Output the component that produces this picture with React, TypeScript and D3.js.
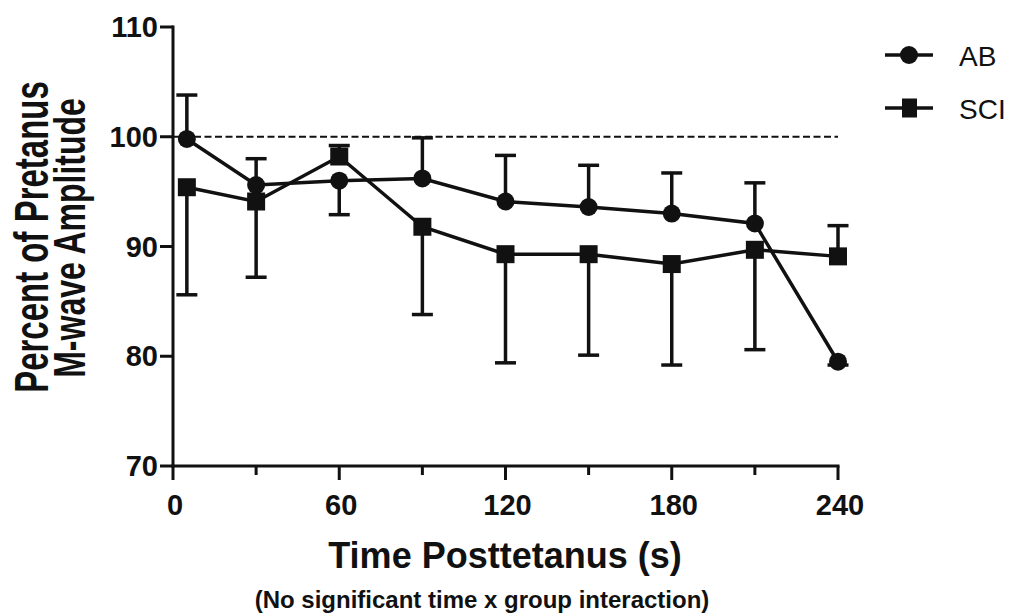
import React from "react";
import * as d3 from "d3";

// Time points (s) after the tetanus
const times = [5, 30, 60, 90, 120, 150, 180, 210, 240];
// Mean M-wave amplitude, percent of pretetanus value
const abMeans = [99.8, 95.6, 96.0, 96.2, 94.1, 93.6, 93.0, 92.1, 79.5];
const sciMeans = [95.4, 94.1, 98.2, 91.8, 89.3, 89.3, 88.4, 89.7, 89.1];
// Error bar half-lengths
const abErr = [4.0, 2.4, 3.1, 3.7, 4.2, 3.8, 3.7, 3.7, 0.3];
const sciErr = [9.8, 6.9, 1.0, 8.0, 9.9, 9.2, 9.2, 9.1, 2.8];

const yTicks = [70, 80, 90, 100, 110];
const xMajorTicks = [0, 60, 120, 180, 240];
const xMinorTicks = [30, 90, 150, 210];

const FONT = "'Liberation Sans', Arial, Helvetica, sans-serif";

export default function App() {
  const W = 1024;
  const H = 615;
  const x = d3.scaleLinear().domain([0, 240]).range([173, 838]);
  const y = d3.scaleLinear().domain([70, 110]).range([466, 27]);

  const line = d3
    .line<number>()
    .x((_, i) => x(times[i]))
    .y((d) => y(d));

  const capHalf = 10.5;
  const stroke = "#111";

  // The upper series at each time point gets its bar drawn upward, the lower one downward
  const errorBars = times.map((t, i) => {
    const abUp = abMeans[i] >= sciMeans[i];
    const ab = { m: abMeans[i], e: abErr[i], dir: abUp ? 1 : -1 };
    const sci = { m: sciMeans[i], e: sciErr[i], dir: abUp ? -1 : 1 };
    return [ab, sci].map((s, j) => {
      const end = s.m + s.dir * s.e;
      const cx = x(t);
      return (
        <g key={`${i}-${j}`}>
          <line x1={cx} x2={cx} y1={y(s.m)} y2={y(end)} stroke={stroke} strokeWidth={3.5} />
          <line x1={cx - capHalf} x2={cx + capHalf} y1={y(end)} y2={y(end)} stroke={stroke} strokeWidth={3.5} />
        </g>
      );
    });
  });

  const yMid = 237;

  return (
    <svg
      width={W}
      height={H}
      style={{ position: "absolute", left: 0, top: 0, background: "#fff" }}
      fontFamily={FONT}
    >
      {/* reference line at 100 % */}
      <line
        x1={x(0)}
        x2={x(240)}
        y1={y(100)}
        y2={y(100)}
        stroke={stroke}
        strokeWidth={2}
        strokeDasharray="7,3.5"
      />

      {errorBars}

      {/* series lines */}
      <path d={line(sciMeans) || ""} fill="none" stroke={stroke} strokeWidth={3.5} />
      <path d={line(abMeans) || ""} fill="none" stroke={stroke} strokeWidth={3.5} />

      {/* markers */}
      {sciMeans.map((v, i) => (
        <rect key={`s${i}`} x={x(times[i]) - 9} y={y(v) - 9} width={18} height={18} fill={stroke} />
      ))}
      {abMeans.map((v, i) => (
        <circle key={`a${i}`} cx={x(times[i])} cy={y(v)} r={9} fill={stroke} />
      ))}

      {/* y axis */}
      <line x1={x(0)} x2={x(0)} y1={y(110) - 1.5} y2={y(70) + 1.5} stroke={stroke} strokeWidth={3} />
      {yTicks.map((t) => (
        <g key={`yt${t}`}>
          <line x1={x(0) - 13} x2={x(0)} y1={y(t)} y2={y(t)} stroke={stroke} strokeWidth={3} />
          <text
            x={x(0) - 15}
            y={y(t) + 10}
            textAnchor="end"
            fontSize={29}
            fontWeight="bold"
            fill={stroke}
          >
            {t}
          </text>
        </g>
      ))}

      {/* x axis */}
      <line x1={x(0) - 1.5} x2={x(240) + 1.5} y1={y(70)} y2={y(70)} stroke={stroke} strokeWidth={3} />
      {xMajorTicks.map((t) => (
        <g key={`xt${t}`}>
          <line x1={x(t)} x2={x(t)} y1={y(70)} y2={y(70) + 14} stroke={stroke} strokeWidth={3} />
          <text
            x={x(t) + 2}
            y={515}
            textAnchor="middle"
            fontSize={29}
            fontWeight="bold"
            fill={stroke}
          >
            {t}
          </text>
        </g>
      ))}
      {xMinorTicks.map((t) => (
        <line key={`xm${t}`} x1={x(t)} x2={x(t)} y1={y(70)} y2={y(70) + 9} stroke={stroke} strokeWidth={3} />
      ))}

      {/* axis titles */}
      <text
        transform={`translate(48, ${yMid}) rotate(-90) scale(1, 1.45)`}
        textAnchor="middle"
        fontSize={33}
        fontWeight="bold"
        fill={stroke}
      >
        Percent of Pretanus
      </text>
      <text
        transform={`translate(85, ${yMid + 1}) rotate(-90) scale(1, 1.4)`}
        textAnchor="middle"
        fontSize={32}
        fontWeight="bold"
        fill={stroke}
      >
        M-wave Amplitude
      </text>
      <text x={505} y={568} textAnchor="middle" fontSize={36} fontWeight="bold" fill={stroke}>
        Time Posttetanus (s)
      </text>
      <text x={482} y={608} textAnchor="middle" fontSize={24} fontWeight="bold" fill={stroke}>
        (No significant time x group interaction)
      </text>

      {/* legend */}
      <g>
        <line x1={885} x2={933} y1={55} y2={55} stroke={stroke} strokeWidth={3.5} />
        <circle cx={909} cy={55} r={9} fill={stroke} />
        <text x={959} y={66} fontSize={28} fill={stroke}>
          AB
        </text>
        <line x1={885} x2={933} y1={108} y2={108} stroke={stroke} strokeWidth={3.5} />
        <rect x={902} y={98.5} width={15} height={19} fill={stroke} />
        <text x={959} y={119} fontSize={28} fill={stroke}>
          SCI
        </text>
      </g>
    </svg>
  );
}
